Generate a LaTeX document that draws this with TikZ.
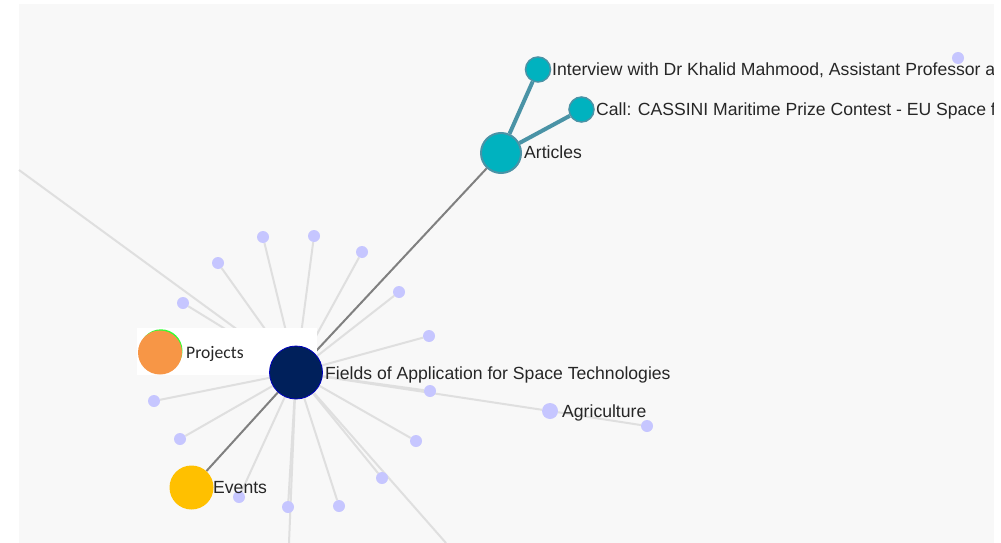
\documentclass[tikz,border=0pt]{standalone}
\usepackage{fontspec}
\setmainfont{Liberation Sans}
\newfontfamily\calibrifont{Carlito}
\usetikzlibrary{backgrounds}

\definecolor{panelgray}{HTML}{F8F8F8}
\definecolor{hubblue}{HTML}{00205B}
\definecolor{articlecol}{HTML}{00B2BF}
\definecolor{articleedge}{HTML}{4A93A6}
\definecolor{leafcol}{HTML}{C6C6FF}
\definecolor{lightedge}{HTML}{DFDFDF}
\definecolor{projectcol}{HTML}{F79646}
\definecolor{eventcol}{HTML}{FFC000}

\tikzset{
  leaf/.style={circle, fill=leafcol, inner sep=0pt, minimum size=12pt},
  bignode/.style={circle, inner sep=0pt},
  faint edge/.style={lightedge, line width=2pt},
  main edge/.style={black!50, line width=2pt},
  article link/.style={articleedge, line width=4pt},
  lbl/.style={anchor=base west, inner sep=0pt, text=black!85,
              font=\fontsize{17.6}{20}\selectfont},
}

\begin{document}
\begin{tikzpicture}[x=1pt, y=-1pt]
\useasboundingbox (0,0) rectangle (1001,543);

% big nodes
\node[bignode, fill=hubblue, draw=blue!75!black, line width=0.8pt, minimum size=53pt] (fields) at (296,372.5) {};
\node[bignode, fill=articlecol, draw=articleedge, line width=2pt, minimum size=40pt] (articles) at (501,153) {};
\node[bignode, fill=articlecol, draw=articleedge, line width=1.5pt, minimum size=25pt] (interview) at (538,69.5) {};
\node[bignode, fill=articlecol, draw=articleedge, line width=1.5pt, minimum size=25pt] (call) at (581.5,109.5) {};
\fill[green!80] (161,350.8) circle (21.5pt);
\node[bignode, fill=projectcol, minimum size=44pt] (projects) at (160,352.5) {};
\node[bignode, fill=eventcol, minimum size=44pt] (events) at (191.5,487.5) {};
\node[leaf, minimum size=16pt] (agri) at (550,411) {};

% small nodes
\foreach \x/\y [count=\i] in {263/237, 314/236, 362/252, 218/263, 399/292,
    183/303, 429/336, 430/391, 154/401, 180/439, 416/441, 382/478,
    239/497, 288/507, 339/506}
  \node[leaf] (leaf\i) at (\x,\y) {};
\node[leaf] (agritip) at (647,426) {};
\node[leaf] (lone) at (958,58) {};

% edges that leave the panel
\coordinate (outwest) at (19,170);
\coordinate (outsouth) at (289,543);
\coordinate (outsoutheast) at (446,543);

\begin{scope}[on background layer]
  \fill[panelgray] (19,4) rectangle (994,543);
  \foreach \i in {1,...,15}
    \draw[faint edge] (fields) -- (leaf\i);
  \draw[faint edge] (fields) -- (outwest);
  \draw[faint edge] (fields) -- (outsouth);
  \draw[faint edge] (fields) -- (outsoutheast);
  \draw[faint edge] (fields) -- (agri);
  \draw[faint edge] (agri) -- (agritip);
  \draw[main edge] (fields) -- (articles);
  \draw[main edge] (fields) -- (events);
  \draw[article link] (articles) -- (interview);
  \draw[article link] (articles) -- (call);
  \fill[white] (137,328) rectangle (317,375);
\end{scope}

% labels
\node[lbl] (fieldslbl) at (325,379) {Fields of Application for Space Technologies};
\node[lbl] (articleslbl) at (524,158) {Articles};
\node[lbl] (interviewlbl) at (552,76) {Interview with Dr Khalid Mahmood, Assistant Professor at};
\node[lbl] (calllbl) at (596,115.5) {Call: CASSINI Maritime Prize Contest - EU Space for Maritime};
\node[lbl, font=\calibrifont\fontsize{17.6}{20}\selectfont] (projectslbl) at (186,358) {Projects};
\node[lbl] (eventslbl) at (213,493) {Events};
\node[lbl] (agrilbl) at (562,417) {Agriculture};

% right margin
\fill[white] (994,0) rectangle (1001,543);
\fill[white] (0,0) rectangle (1001,4);
\end{tikzpicture}
\end{document}
